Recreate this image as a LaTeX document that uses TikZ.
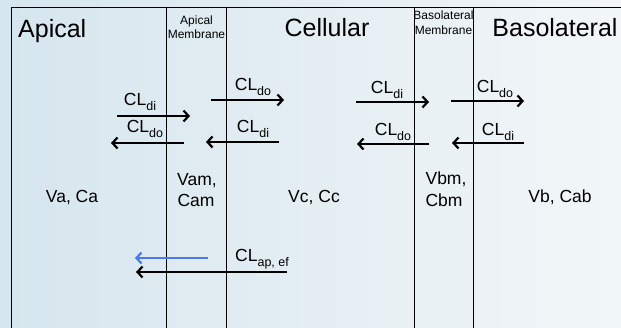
\documentclass[tikz,border=0pt]{standalone}
\usepackage{fontspec}
\setmainfont{Liberation Sans}
\usetikzlibrary{arrows.meta}
\definecolor{bgL}{HTML}{D6E6EE}
\definecolor{bgR}{HTML}{F2F6F8}
\definecolor{blueArr}{HTML}{4A78EE}
\tikzset{
  sep/.style={line width=0.8pt, black},
  flux/.style={line width=2.2pt, -{Straight Barb[length=5pt,width=11pt,line width=2.2pt]}},
  big/.style={font=\fontsize{25}{27}\selectfont, inner sep=0pt},
  small/.style={font=\fontsize{12}{13}\selectfont, inner sep=0pt, align=center},
  lab/.style={font=\fontsize{17.5}{21}\selectfont, inner sep=0pt, align=center},
  cl/.style={font=\fontsize{17.5}{20}\selectfont, inner sep=0pt},
}
\newcommand{\CLsub}[1]{CL\raisebox{-0.25em}{\fontsize{12.5}{14}\selectfont #1}}
\begin{document}
\begin{tikzpicture}[x=1pt,y=-1pt]
\useasboundingbox (0,0) rectangle (621,328);
\shade[left color=bgL, right color=bgR] (0,0) rectangle (621,328);
% frame lines
\coordinate (tl) at (11.7,7.3);
\coordinate (tr) at (621,7.3);
\draw[sep] (tr) -- (tl) -- (11.7,328);
\foreach \x/\n in {166.7/a,226.7/b,414/c,473.5/d}{
  \coordinate (\n top) at (\x,7.3);
  \coordinate (\n bot) at (\x,328);
  \draw[sep] (\n top) -- (\n bot);
}
% headings
\node[big, anchor=base west] (hApical) at (18,38) {Apical};
\node[big, anchor=base] (hCell) at (327,37) {Cellular};
\node[big, anchor=base] (hBaso) at (555,37) {Basolateral};
\node[small, anchor=base] (hAM1) at (196.5,25) {Apical};
\node[small, anchor=base] (hAM2) at (196.5,39) {Membrane};
\node[small, anchor=base] (hBM1) at (443.5,20) {Basolateral};
\node[small, anchor=base] (hBM2) at (443.5,34.5) {Membrane};
% compartment labels
\node[lab, anchor=base] (va) at (72,203) {Va, Ca};
\node[lab, anchor=base] (vam1) at (197,186) {Vam,};
\node[lab, anchor=base] (vam2) at (196,207) {Cam};
\node[lab, anchor=base] (vc) at (314,203) {Vc, Cc};
\node[lab, anchor=base] (vbm1) at (446,185) {Vbm,};
\node[lab, anchor=base] (vbm2) at (444,207) {Cbm};
\node[lab, anchor=base] (vb) at (560,203) {Vb, Cab};
% CL labels
\node[cl, anchor=base] (l1) at (140,106) {\CLsub{di}};
\node[cl, anchor=base] (l2) at (145,133) {\CLsub{do}};
\node[cl, anchor=base] (l3) at (253,91) {\CLsub{do}};
\node[cl, anchor=base] (l4) at (253,133) {\CLsub{di}};
\node[cl, anchor=base] (l5) at (387,94) {\CLsub{di}};
\node[cl, anchor=base] (l6) at (393,136) {\CLsub{do}};
\node[cl, anchor=base] (l7) at (495,93) {\CLsub{do}};
\node[cl, anchor=base] (l8) at (498,136) {\CLsub{di}};
\node[cl, anchor=base] (l9) at (262,262) {\CLsub{ap, ef}};
% arrow ends
\coordinate (a1s) at (117,116);  \coordinate (a1e) at (190,116);
\coordinate (a2s) at (184,143);  \coordinate (a2e) at (111,143);
\coordinate (a3s) at (211,100);  \coordinate (a3e) at (284,100);
\coordinate (a4s) at (279,142);  \coordinate (a4e) at (206,142);
\coordinate (a5s) at (356,102);  \coordinate (a5e) at (429,102);
\coordinate (a6s) at (429,144);  \coordinate (a6e) at (357,144);
\coordinate (a7s) at (451,101);  \coordinate (a7e) at (524,101);
\coordinate (a8s) at (524,143);  \coordinate (a8e) at (452,143);
\coordinate (b1s) at (208,258);  \coordinate (b1e) at (135,258);
\coordinate (b2s) at (287,272);  \coordinate (b2e) at (136,272);
\foreach \a in {a1,a2,a3,a4,a5,a6,a7,a8,b2}{
  \draw[flux] (\a s) -- (\a e);
}
\draw[flux, blueArr, line width=1.8pt] (b1s) -- (b1e);
\end{tikzpicture}
\end{document}
